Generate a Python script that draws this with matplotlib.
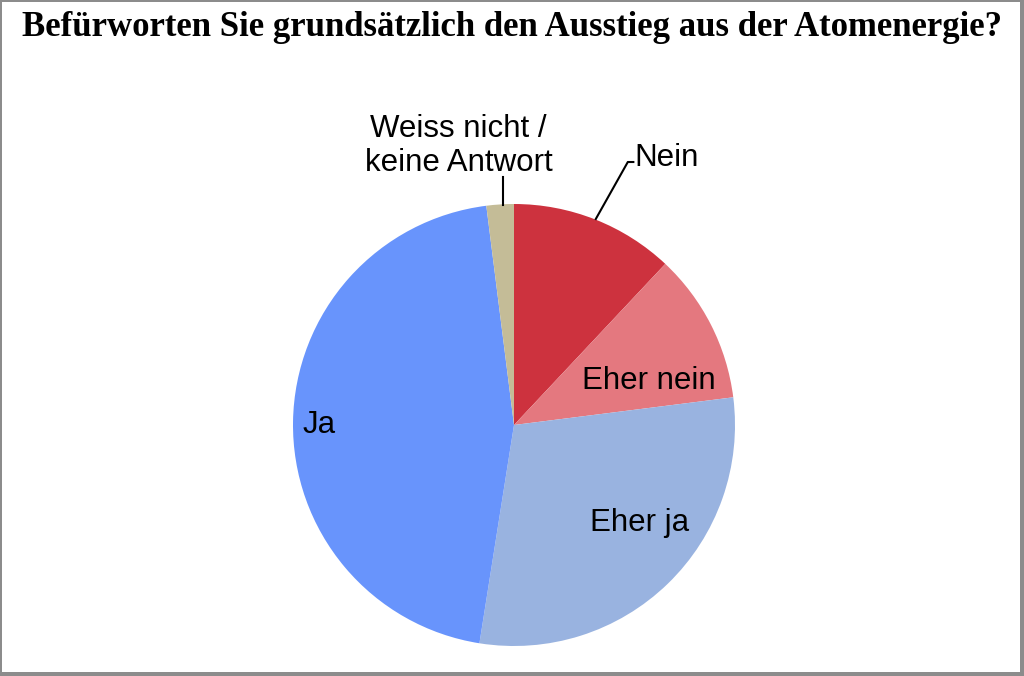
import matplotlib
matplotlib.use("Agg")
import matplotlib.pyplot as plt
from matplotlib.patches import Rectangle

# survey answers, clockwise from 12 o'clock
answers = ["Nein", "Eher nein", "Eher ja", "Ja", "Weiss nicht /\nkeine Antwort"]
shares = [12, 11, 29.5, 45.5, 2]
colors = ["#CD323E", "#E4787F", "#99B3E0", "#6894FC", "#C4BC97"]

title = "Befürworten Sie grundsätzlich den Ausstieg aus der Atomenergie?"

W, H = 1024, 676
fig = plt.figure(figsize=(W / 100, H / 100), dpi=100)
fig.patch.set_facecolor("#8c8c8c")
fig.patches.append(Rectangle((2 / W, 4 / H), (W - 6) / W, (H - 6) / H,
                             transform=fig.transFigure, facecolor="white",
                             edgecolor="none", zorder=-10))

# pie centre ~ (513, 425) px, radius ~221 px
cx, cy, r = 514, 425, 221
ax = fig.add_axes([(cx - r) / W, (H - cy - r) / H, 2 * r / W, 2 * r / H])
ax.set_zorder(5)
ax.patch.set_visible(False)
wedges, _ = ax.pie(shares, colors=colors, startangle=90, counterclock=False,
                   radius=1.0, wedgeprops=dict(linewidth=0))
ax.set_xlim(-1, 1)
ax.set_ylim(-1, 1)
ax.set_aspect("equal")
ax.axis("off")

lab = dict(fontsize=22.5, family="Liberation Sans", ha="center", va="center")
ax.text(0.69, 1.21, answers[0], **lab)
ax.text(0.61, 0.20, answers[1], **lab)
ax.text(0.57, -0.445, answers[2], **lab)
ax.text(-0.88, 0.0, answers[3], **lab)
ax.text(-0.25, 1.262, answers[4], linespacing=1.15, **lab)

# leader lines
ax.plot([0.37, 0.515, 0.54], [0.932, 1.19, 1.19], color="black",
        lw=1.5, clip_on=False)
ax.plot([-0.05, -0.05], [0.995, 1.12], color="black", lw=1.5, clip_on=False)

fig.text(0.5, 1 - 28 / H, title, ha="center", va="center",
         fontsize=25, fontweight="bold", family="Liberation Serif")

fig.savefig("out.png", dpi=100, facecolor=fig.get_facecolor())
